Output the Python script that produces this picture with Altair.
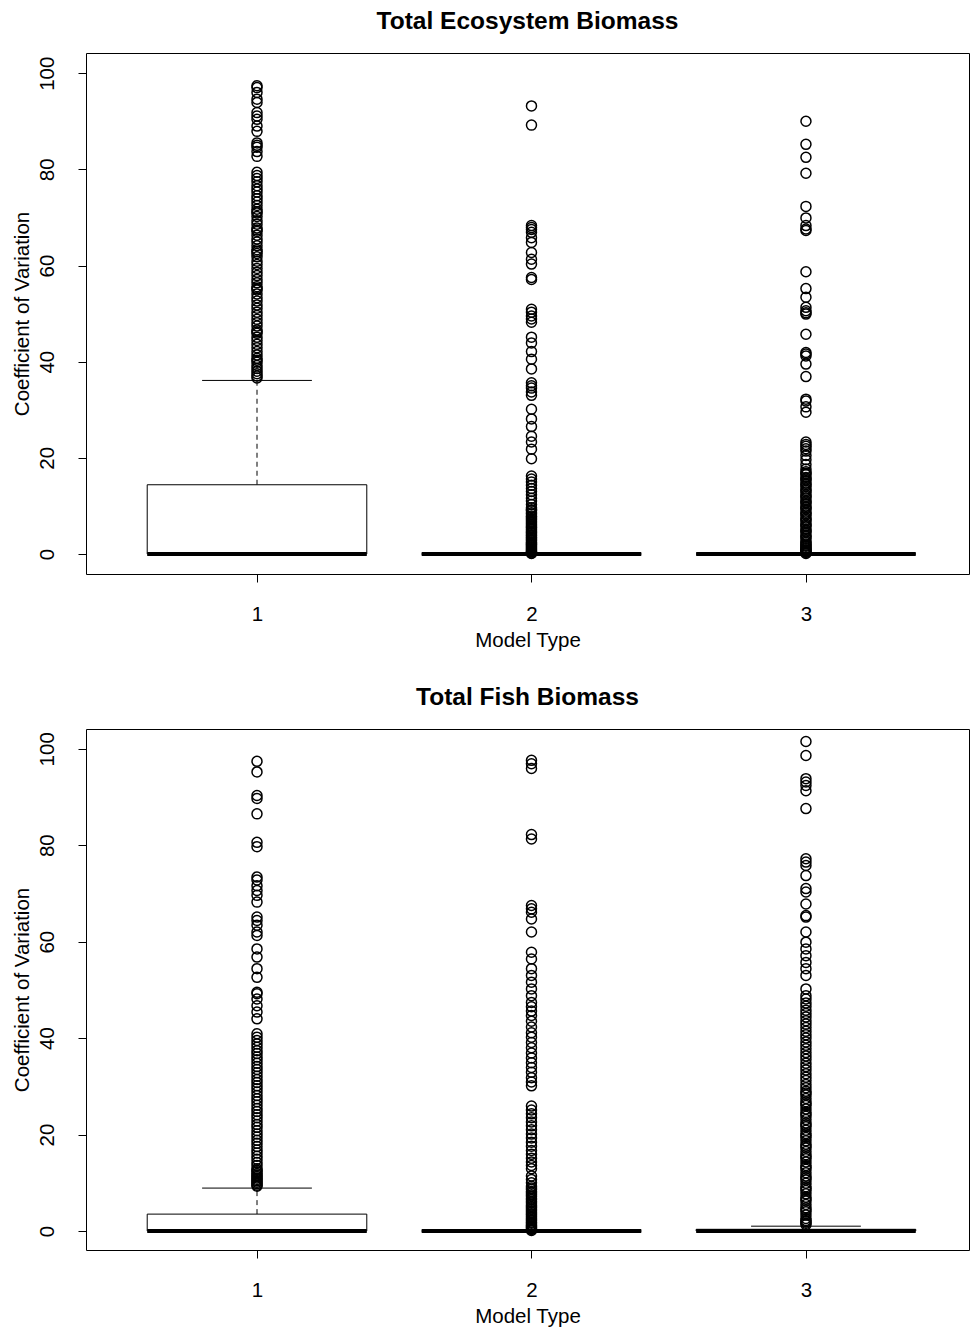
import altair as alt
import pandas as pd

FONT = "Liberation Sans"

models = [1, 2, 3]

# Panel 1: Total Ecosystem Biomass — box statistics per model type
eco_wlo = [0.0, 0.0, 0.0]
eco_q1 = [0.0, 0.0, 0.0]
eco_med = [0.0, 0.0, 0.0]
eco_q3 = [14.4, 0.0, 0.0]
eco_whi = [36.1, 0.0, 0.0]

eco_out_1 = [97.4, 97.0, 96.0, 94.6, 93.9, 91.8, 91.1, 90.4, 89.0, 87.9, 85.5, 85.0, 84.6, 83.7, 82.7,
             79.4, 78.7, 78.1, 77.4, 76.6, 75.9, 75.3, 74.5, 73.9, 73.2, 72.5, 71.7, 71.2, 70.9, 70.2,
             69.3, 68.6, 67.8, 67.4, 67.1, 66.3, 65.5, 64.9, 64.1, 63.3, 62.9, 62.5, 61.8, 60.9, 60.2,
             59.4, 58.6, 57.9, 57.1, 56.4, 55.6, 55.2, 54.9, 54.1, 53.3, 52.6, 51.8, 51.1, 50.3, 49.6,
             48.8, 48.1, 47.4, 46.6, 46.2, 45.9, 45.1, 44.4, 43.6, 42.9, 42.1, 41.4, 40.7, 40.3, 39.9,
             39.2, 38.6, 38.0, 37.5, 37.0, 36.6]
eco_out_2 = [93.2, 89.2, 68.3, 67.9, 67.5, 66.9, 65.8, 64.8, 62.7, 61.3, 60.3, 57.5, 57.1, 50.9, 50.3,
             49.5, 48.9, 48.2, 45.1, 43.9, 42.1, 40.5, 38.5, 35.6, 35.0, 34.5, 33.7, 33.0, 30.1, 28.1,
             26.5, 24.5, 23.3, 21.8, 19.8, 16.2, 15.6, 15.0, 14.3, 13.6, 13.0, 12.3, 11.6, 11.0, 10.3,
             9.6, 9.2, 9.0, 8.6, 8.3, 7.9, 7.7, 7.4, 7.1, 6.8, 6.5, 6.2, 5.9, 5.6, 5.4, 5.1, 4.8, 4.5,
             4.3, 4.0, 3.8, 3.5, 3.3, 3.0, 2.8, 2.5, 2.3, 2.1, 1.9, 1.7, 1.5, 1.3, 1.1, 0.9, 0.7, 0.5,
             0.4, 0.2, 0.1]
eco_out_3 = [90.0, 85.2, 82.5, 79.2, 72.3, 69.9, 68.3, 67.6, 67.3, 58.7, 55.2, 53.4, 51.3, 50.6, 50.2,
             49.9, 45.7, 41.9, 41.6, 41.2, 39.5, 36.9, 32.2, 31.8, 30.6, 29.5, 23.3, 22.8, 22.4, 21.9,
             21.4, 20.5, 19.6, 18.6, 17.7, 17.1, 16.8, 16.5, 15.9, 15.6, 15.3, 14.7, 14.4, 14.1, 13.5,
             13.2, 12.9, 12.3, 12.0, 11.7, 11.1, 10.8, 10.5, 9.9, 9.6, 9.3, 8.7, 8.4, 8.1, 7.5, 7.2,
             6.9, 6.3, 6.0, 5.7, 5.1, 4.8, 4.5, 3.9, 3.6, 3.3, 2.7, 2.4, 2.1, 1.8, 1.6, 1.3, 1.1, 0.9,
             0.7, 0.5, 0.3, 0.1]

# Panel 2: Total Fish Biomass
fish_wlo = [0.0, 0.0, 0.0]
fish_q1 = [0.0, 0.0, 0.0]
fish_med = [0.0, 0.0, 0.0]
fish_q3 = [3.5, 0.0, 0.35]
fish_whi = [8.9, 0.0, 1.0]

fish_out_1 = [97.4, 95.2, 90.3, 89.7, 86.5, 80.6, 79.7, 73.4, 72.8, 71.6, 70.6, 69.6, 68.2, 65.1, 64.4,
              63.4, 62.0, 61.3, 58.5, 56.8, 54.4, 52.6, 49.5, 49.2, 48.1, 46.7, 45.4, 44.0, 40.9, 40.2,
              39.5, 38.8, 38.1, 37.4, 36.8, 36.1, 35.5, 34.8, 34.1, 33.5, 32.8, 32.1, 31.4, 30.8, 30.1,
              29.5, 28.8, 28.1, 27.4, 26.8, 26.1, 25.4, 24.8, 24.1, 23.5, 22.8, 22.1, 21.5, 20.8, 20.1,
              19.5, 18.8, 18.2, 17.5, 16.8, 16.2, 15.5, 14.9, 14.2, 13.6, 12.9, 12.6, 12.3, 11.9, 11.6,
              11.3, 11.0, 10.7, 10.4, 10.1, 9.8, 9.5, 9.3]
fish_out_2 = [97.6, 96.9, 95.9, 82.2, 81.3, 67.5, 66.8, 66.1, 64.7, 62.0, 57.8, 56.4, 54.4, 53.0, 51.6,
              50.2, 48.8, 47.4, 46.5, 45.6, 44.7, 43.5, 42.3, 41.1, 40.2, 39.1, 38.0, 36.9, 35.9, 34.9,
              33.9, 32.9, 31.8, 30.9, 30.1, 25.9, 25.1, 24.3, 23.5, 22.6, 21.8, 21.0, 20.1, 19.3, 18.4,
              17.6, 16.7, 15.9, 15.1, 14.3, 13.6, 12.9, 11.4, 10.7, 10.0, 9.3, 8.9, 8.6, 8.2, 7.9, 7.5,
              7.2, 6.8, 6.5, 6.1, 5.8, 5.4, 5.1, 4.8, 4.5, 4.2, 3.9, 3.6, 3.3, 3.0, 2.7, 2.4, 2.1, 1.8,
              1.6, 1.3, 1.1, 0.9, 0.7, 0.5, 0.3, 0.1]
fish_out_3 = [101.5, 98.6, 93.8, 93.1, 92.4, 91.3, 87.6, 77.2, 76.5, 75.8, 73.7, 71.0, 70.3, 67.8, 65.4,
              65.1, 62.0, 59.9, 58.5, 57.1, 55.7, 54.4, 53.0, 50.2, 48.8, 48.1, 47.3, 46.6, 45.8, 45.1,
              44.4, 43.6, 42.9, 42.2, 41.4, 40.7, 40.0, 39.2, 38.5, 37.8, 37.0, 36.3, 35.6, 34.8, 34.1,
              33.4, 32.6, 31.9, 31.2, 30.4, 29.7, 29.0, 28.6, 28.2, 27.5, 26.8, 26.4, 26.0, 25.3, 24.6,
              24.2, 23.8, 23.1, 22.4, 22.0, 21.6, 20.9, 20.2, 19.8, 19.4, 18.7, 18.0, 17.6, 17.2, 16.5,
              15.8, 15.4, 15.0, 14.3, 13.6, 13.2, 12.8, 12.1, 11.4, 11.0, 10.6, 9.9, 9.2, 8.8, 8.4, 7.7,
              7.0, 6.6, 6.2, 5.5, 4.8, 4.4, 4.0, 3.3, 2.6, 2.2, 1.9, 1.6, 1.3]

x_ticks = [1, 2, 3]
y_ticks = [0, 20, 40, 60, 80, 100]
x_title = "Model Type"
y_title = "Coefficient of Variation"

W, H = 883, 521
TICK = 8


def panel(title, wlo, q1, med, q3, whi, outs, ydom):
    stats = pd.DataFrame({"model": models, "wlo": wlo, "q1": q1, "med": med, "q3": q3, "whi": whi})
    rows_m, rows_v = [], []
    for m, vals in zip(models, outs):
        rows_m += [m] * len(vals)
        rows_v += vals
    pts = pd.DataFrame({"model": rows_m, "cv": rows_v})

    xs = alt.Scale(domain=[0.377, 3.594], nice=False, zero=False)
    ys = alt.Scale(domain=ydom, nice=False, zero=False)
    xaxis = alt.Axis(values=x_ticks, format="d", title=x_title, tickSize=TICK,
                     labelPadding=46.5 - TICK, labelBaseline="alphabetic",
                     titleY=72.5, titleBaseline="alphabetic")
    yaxis = alt.Axis(values=y_ticks, format="d", title=y_title, tickSize=TICK,
                     labelAngle=270, labelAlign="center", labelBaseline="alphabetic",
                     labelPadding=33 - TICK, titleX=-58, titleAngle=270,
                     titleBaseline="alphabetic", titleAlign="center")

    def X(f):
        return alt.X(f, type="quantitative", scale=xs, axis=xaxis)

    def Y(f):
        return alt.Y(f, type="quantitative", scale=ys, axis=yaxis)

    base = alt.Chart(stats).transform_calculate(
        xl="datum.model - 0.4", xh="datum.model + 0.4",
        cl="datum.model - 0.2", ch="datum.model + 0.2")

    wh_up = base.mark_rule(color="black", strokeWidth=1, strokeDash=[5, 4]).encode(
        x=X("model"), y=Y("q3"), y2="whi:Q")
    wh_lo = base.mark_rule(color="black", strokeWidth=1, strokeDash=[5, 4]).encode(
        x=X("model"), y=Y("q1"), y2="wlo:Q")
    cap_up = base.mark_rule(color="black", strokeWidth=1).encode(
        x=X("cl"), x2="ch:Q", y=Y("whi"))
    cap_lo = base.mark_rule(color="black", strokeWidth=1).encode(
        x=X("cl"), x2="ch:Q", y=Y("wlo"))
    box = base.mark_rect(fill="white", stroke="black", strokeWidth=1).encode(
        x=X("xl"), x2="xh:Q", y=Y("q1"), y2="q3:Q")
    median = base.mark_rule(color="black", strokeWidth=4).encode(
        x=X("xl"), x2="xh:Q", y=Y("med"))
    points = alt.Chart(pts).mark_point(shape="circle", filled=False, color="black",
                                       size=100, strokeWidth=1.5, opacity=1).encode(
        x=X("model"), y=Y("cv"))

    return alt.layer(wh_up, wh_lo, cap_up, cap_lo, box, median, points).properties(
        width=W, height=H, title=alt.TitleParams(title))


top = panel("Total Ecosystem Biomass", eco_wlo, eco_q1, eco_med, eco_q3, eco_whi,
            [eco_out_1, eco_out_2, eco_out_3], [-4.16, 104.2])
bottom = panel("Total Fish Biomass", fish_wlo, fish_q1, fish_med, fish_q3, fish_whi,
               [fish_out_1, fish_out_2, fish_out_3], [-3.94, 104.1])

chart = alt.vconcat(top, bottom, spacing=155, bounds="flush").properties(
    padding={"left": 11, "top": 8, "right": 0, "bottom": 5},
    background="white",
).configure_view(
    stroke="black", strokeWidth=1
).configure_axis(
    grid=False, domain=False, tickColor="black", tickWidth=1,
    labelColor="black", titleColor="black", labelFont=FONT, titleFont=FONT,
    labelFontSize=20.5, titleFontSize=20.5, titleFontWeight="normal",
).configure_title(
    font=FONT, fontSize=24.5, fontWeight="bold", color="black",
    anchor="middle", baseline="alphabetic", offset=19,
)

chart.save("out.html", embed_options={"renderer": "svg", "actions": False})
